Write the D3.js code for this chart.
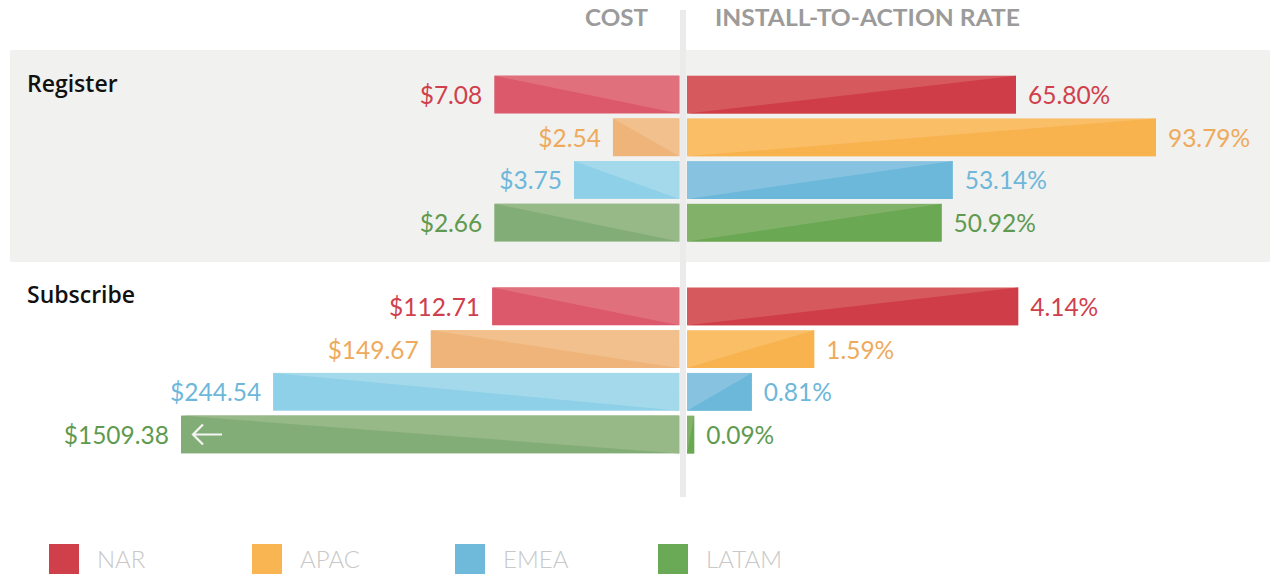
<!DOCTYPE html>
<html>
<head>
<meta charset="utf-8">
<script src="https://cdn.jsdelivr.net/npm/d3@7"></script>
<style>
  body { margin: 0; background: #ffffff; }
  #chart text { font-family: Lato, "Open Sans", sans-serif; }
</style>
</head>
<body>
<div id="chart"></div>
<script>
// Data
const regions = ["NAR", "APAC", "EMEA", "LATAM"];
const groups = ["Register", "Subscribe"];

const registerCost = [7.08, 2.54, 3.75, 2.66];
// bar lengths as drawn in the original (in $ units of the register scale)
const registerCostBar = [7.08, 2.54, 4.03, 7.08];
const registerRate = [65.80, 93.79, 53.14, 50.92];

const subscribeCost = [112.71, 149.67, 244.54, 1509.38];
const subscribeRate = [4.14, 1.59, 0.81, 0.09];

const headers = ["COST", "INSTALL-TO-ACTION RATE"];

// Colours per region
const colors = {
    NAR:   { label: "#d0404c", rightDark: "#cf3d49", rightLight: "#d6595d", leftDark: "#dc586b", leftLight: "#e1707d", legend: "#d0404b" },
    APAC:  { label: "#eeaa5c", rightDark: "#f8b24e", rightLight: "#f9be66", leftDark: "#efb479", leftLight: "#f1c08c", legend: "#f8b552" },
    EMEA:  { label: "#6db7db", rightDark: "#6cb8da", rightLight: "#87c3e0", leftDark: "#8ed0e7", leftLight: "#a4d9eb", legend: "#6fbadb" },
    LATAM: { label: "#5f9a4f", rightDark: "#6aa853", rightLight: "#82b26a", leftDark: "#83ad77", leftLight: "#97b887", legend: "#6aa956" }
};

const width = 1270, height = 574;
const leftEdge = 679.3;   // cost bars grow left from here
const rightEdge = 687;    // rate bars grow right from here

const svg = d3.select("#chart")
    .append("svg")
    .attr("width", width)
    .attr("height", height);

// Grey band behind the Register group
svg.append("rect")
    .attr("x", 10).attr("y", 50)
    .attr("width", 1260).attr("height", 212)
    .attr("fill", "#f1f1ef");

// Central divider
svg.append("rect")
    .attr("x", 680).attr("y", 10)
    .attr("width", 6).attr("height", 487)
    .attr("fill", "#ebebeb");

// Column headers
svg.append("text")
    .attr("x", 585).attr("y", 26)
    .attr("textLength", 63).attr("lengthAdjust", "spacingAndGlyphs")
    .style("font-size", "23px").style("font-weight", 700)
    .style("fill", "#9b9b9b")
    .text(headers[0]);
svg.append("text")
    .attr("x", 715).attr("y", 26)
    .attr("textLength", 305).attr("lengthAdjust", "spacingAndGlyphs")
    .style("font-size", "23px").style("font-weight", 700)
    .style("fill", "#9b9b9b")
    .text(headers[1]);

// Scales
const costScaleReg = d3.scaleLinear().domain([0, 10]).range([0, 261.3]);
const costScaleSub = d3.scaleLinear().domain([0, 300]).range([0, 498.3]).clamp(true);
const rateScaleReg = d3.scaleLinear().domain([0, 100]).range([0, 500]);
const rateScaleSub = d3.scaleLinear().domain([0, 6.25]).range([0, 500]);

const groupData = [
    { name: groups[0], labelY: 92, rows: [75.7, 241.6], cost: registerCost, costBar: registerCostBar, rate: registerRate, costScale: costScaleReg, rateScale: rateScaleReg },
    { name: groups[1], labelY: 303, rows: [287.5, 453.4], cost: subscribeCost, costBar: subscribeCost, rate: subscribeRate, costScale: costScaleSub, rateScale: rateScaleSub }
];

const fmtCost = d => "$" + d3.format(".2f")(d);
const fmtRate = d => d3.format(".2f")(d) + "%";

groupData.forEach(g => {
    // Group title
    svg.append("text")
        .attr("x", 27).attr("y", g.labelY)
        .style("font-family", "'Open Sans', Lato, sans-serif")
        .style("font-size", "23px").style("font-weight", 600)
        .style("fill", "#111111")
        .text(g.name);

    const yScale = d3.scaleBand().domain(regions).range(g.rows).paddingInner(0.115);
    const bh = yScale.bandwidth();

    const rows = regions.map((r, i) => ({ region: r, cost: g.cost[i], costBar: g.costBar[i], rate: g.rate[i] }));

    const row = svg.append("g").selectAll("g")
        .data(rows)
        .enter().append("g")
        .attr("transform", d => "translate(0," + yScale(d.region) + ")");

    // Cost bars (left): dark lower-left triangle, light upper-right triangle
    row.append("rect")
        .attr("x", d => leftEdge - g.costScale(d.costBar))
        .attr("width", d => g.costScale(d.costBar))
        .attr("height", bh)
        .attr("fill", d => colors[d.region].leftDark);
    row.append("path")
        .attr("d", d => {
            const x0 = leftEdge - g.costScale(d.costBar);
            return "M" + x0 + ",0L" + leftEdge + ",0L" + leftEdge + "," + bh + "Z";
        })
        .attr("fill", d => colors[d.region].leftLight);

    // Rate bars (right): light upper-left triangle, dark lower-right triangle
    row.append("rect")
        .attr("x", rightEdge)
        .attr("width", d => g.rateScale(d.rate))
        .attr("height", bh)
        .attr("fill", d => colors[d.region].rightLight);
    row.append("path")
        .attr("d", d => {
            const x1 = rightEdge + g.rateScale(d.rate);
            return "M" + rightEdge + "," + bh + "L" + x1 + ",0L" + x1 + "," + bh + "Z";
        })
        .attr("fill", d => colors[d.region].rightDark);

    // Cost labels
    row.append("text")
        .attr("x", d => leftEdge - g.costScale(d.costBar) - 12)
        .attr("y", bh / 2 + 9.5)
        .attr("text-anchor", "end")
        .style("font-size", "24.5px").style("font-weight", 400)
        .style("fill", d => colors[d.region].label)
        .text(d => fmtCost(d.cost));

    // Rate labels
    row.append("text")
        .attr("x", d => rightEdge + g.rateScale(d.rate) + 12)
        .attr("y", bh / 2 + 9.5)
        .style("font-size", "24.5px").style("font-weight", 400)
        .style("fill", d => colors[d.region].label)
        .text(d => fmtRate(d.rate));

    // Arrow on clipped bars
    row.filter(d => g.costScale.clamp() && d.costBar > g.costScale.domain()[1])
        .append("path")
        .attr("d", d => {
            const x0 = leftEdge - g.costScale(d.costBar) + 12;
            const cy = bh / 2;
            return "M" + (x0 + 29) + "," + cy + "L" + x0 + "," + cy +
                "M" + (x0 + 10) + "," + (cy - 10) + "L" + x0 + "," + cy + "L" + (x0 + 10) + "," + (cy + 10);
        })
        .attr("fill", "none")
        .attr("stroke", "#f4f4f4")
        .attr("stroke-width", 2.2);
});

// Legend
const legendX = d3.scalePoint().domain(regions).range([49, 658]);
const legend = svg.append("g").selectAll("g")
    .data(regions)
    .enter().append("g")
    .attr("transform", d => "translate(" + legendX(d) + ",544)");
legend.append("rect")
    .attr("width", 30).attr("height", 32)
    .attr("fill", d => colors[d].legend);
legend.append("text")
    .attr("x", 48).attr("y", 24)
    .style("font-size", "24px").style("font-weight", 300)
    .style("fill", "#c8c8c8")
    .text(d => d);
</script>
</body>
</html>
